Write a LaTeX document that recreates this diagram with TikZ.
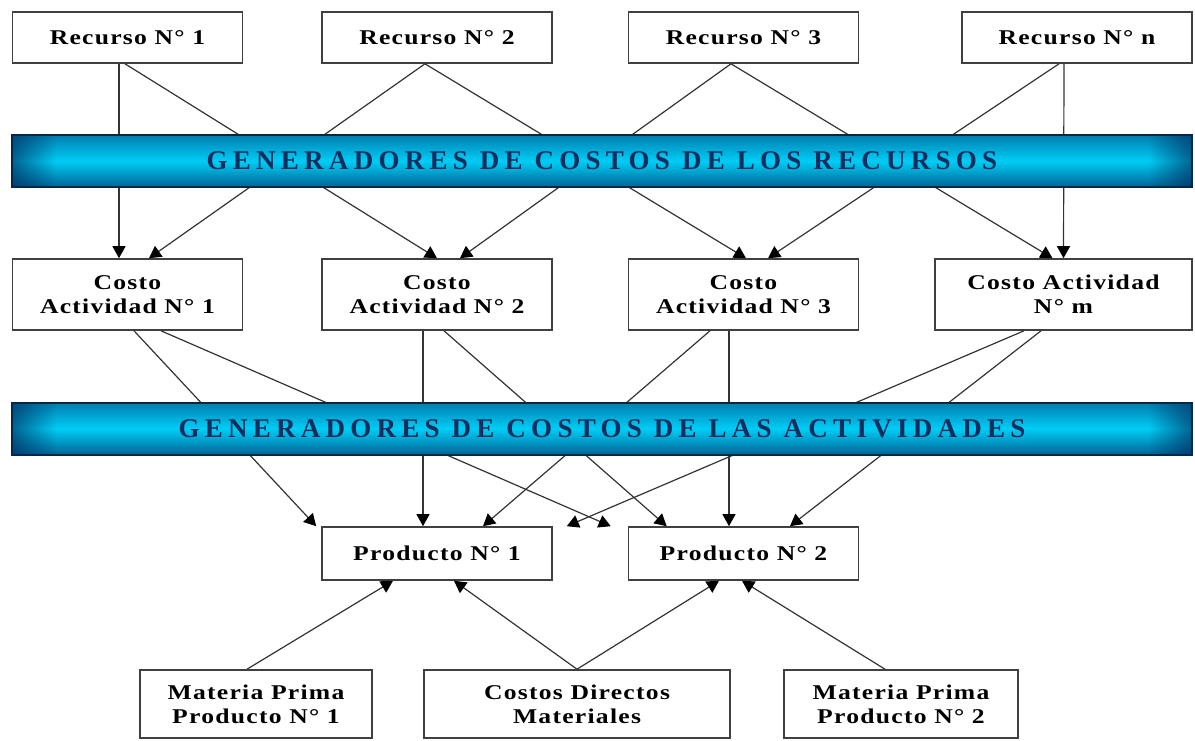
\documentclass[tikz,border=0pt]{standalone}
\usepackage{fontspec}
\setmainfont{Liberation Serif}
\newfontfamily\cajafont{Liberation Serif}[FakeStretch=1.22,LetterSpace=6]
\newfontfamily\barrafont{Liberation Serif}[LetterSpace=19.5]
\usetikzlibrary{arrows.meta,calc,fadings}
\definecolor{azulbarra}{RGB}{20,45,95}
\definecolor{bordebarra}{RGB}{10,40,60}
\definecolor{cianarriba}{RGB}{0,125,175}
\definecolor{cianmedio}{RGB}{0,205,245}
\definecolor{cianabajo}{RGB}{0,100,150}
\definecolor{finbarra}{RGB}{0,40,90}
\tikzfading[name=finizq, left color=transparent!35, right color=transparent!100]
\tikzfading[name=finder, left color=transparent!100, right color=transparent!35]
\begin{document}
\begin{tikzpicture}[x=0.5pt,y=-0.5pt]
        \tikzstyle{caja}=[draw=black!75,line width=0.8pt,fill=white,minimum width=115pt,inner sep=1pt,align=center,font=\cajafont\bfseries\fontsize{10.5}{12}\selectfont]
        \tikzstyle{barra}=[draw=bordebarra,line width=1pt,minimum width=590pt,minimum height=26pt,top color=cianarriba,bottom color=cianabajo,middle color=cianmedio,text=azulbarra,font=\barrafont\bfseries\fontsize{13.5}{15}\selectfont]
        \tikzstyle{flecha}=[draw=black!80,line width=0.6pt,-{Triangle[length=6pt,width=6.5pt,color=black]}]
        \useasboundingbox (0,0) rectangle (1195,740);
        \node[caja,minimum height=25.5pt] (r1) at (127.5,37.5) {Recurso N° 1};
        \node[caja,minimum height=25.5pt] (r2) at (437,37.5) {Recurso N° 2};
        \node[caja,minimum height=25.5pt] (r3) at (743.5,37.5) {Recurso N° 3};
        \node[caja,minimum height=25.5pt] (rn) at (1077,37.5) {Recurso N° n};
        \node[caja,minimum height=35.5pt] (a1) at (127.5,294.5) {Costo\\Actividad N° 1};
        \node[caja,minimum height=35.5pt] (a2) at (437,294.5) {Costo\\Actividad N° 2};
        \node[caja,minimum height=35.5pt] (a3) at (743.5,294.5) {Costo\\Actividad N° 3};
        \node[caja,minimum height=35.5pt,minimum width=128.5pt] (am) at (1063.5,294.5) {Costo Actividad\\N° m};
        \node[caja,minimum height=26.5pt] (p1) at (437,553.5) {Producto N° 1};
        \node[caja,minimum height=26.5pt] (p2) at (743.5,553.5) {Producto N° 2};
        \node[caja,minimum height=34pt,minimum width=116pt] (mp1) at (256,704) {Materia Prima\\Producto N° 1};
        \node[caja,minimum height=34pt,minimum width=153pt] (cdm) at (577,704) {Costos Directos\\Materiales};
        \node[caja,minimum height=34pt,minimum width=117pt] (mp2) at (901,704) {Materia Prima\\Producto N° 2};
        \draw[flecha] ($(r1.south)+(-8.5,0)$) -- ($(a1.north)+(-8.5,0)$);
        \draw[flecha] ($(r1.south)+(-2.5,0)$) -- (a2.north);
        \draw[flecha] ($(r2.south)+(-12,0)$) -- ($(a1.north)+(21.5,0)$);
        \draw[flecha] ($(r2.south)+(-12,0)$) -- ($(a3.north)+(2.5,0)$);
        \draw[flecha] ($(r3.south)+(-12.5,0)$) -- ($(a2.north)+(23,0)$);
        \draw[flecha] ($(r3.south)+(-12.5,0)$) -- ($(am.north)+(-11,0)$);
        \draw[flecha] ($(rn.south)+(-18,0)$) -- ($(a3.north)+(24.5,0)$);
        \draw[flecha] ($(rn.south)+(-13,0)$) -- (am.north);
        \draw[flecha] ($(a1.south)+(6.5,0)$) -- ($(p1.north west)+(-5,0)$);
        \draw[flecha] ($(a1.south)+(33.5,0)$) -- ($(p2.north west)+(-17,0)$);
        \draw[flecha] ($(a2.south)+(-14,0)$) -- ($(p1.north)+(-14,0)$);
        \draw[flecha] ($(a2.south)+(7,0)$) -- ($(p2.north west)+(39,0)$);
        \draw[flecha] ($(a3.south)+(-33.5,0)$) -- ($(p1.north)+(46,0)$);
        \draw[flecha] ($(a3.south)+(-14.5,0)$) -- ($(p2.north)+(-14.5,0)$);
        \draw[flecha] ($(am.south)+(-39.5,0)$) -- ($(p1.north east)+(14,0)$);
        \draw[flecha] ($(am.south)+(-22.5,0)$) -- ($(p2.north)+(46.5,0)$);
        \draw[flecha] ($(mp1.north)+(-9,0)$) -- ($(p1.south)+(-44,0)$);
        \draw[flecha] (cdm.north) -- ($(p1.south)+(17,0)$);
        \draw[flecha] (cdm.north) -- ($(p2.south)+(-24.5,0)$);
        \draw[flecha] ($(mp2.north)+(-16,0)$) -- ($(p2.south)+(-1.5,0)$);
        \node[barra] (g1) at (602,161) {GENERADORES DE COSTOS DE LOS RECURSOS};
        \node[barra] (g2) at (602,428.5) {GENERADORES DE COSTOS DE LAS ACTIVIDADES};
        \foreach \g in {g1,g2} {
            \fill[finbarra,path fading=finizq] (\g.north west) rectangle ($(\g.south west)+(45,0)$);
            \fill[finbarra,path fading=finder] ($(\g.north east)+(-45,0)$) rectangle (\g.south east);
        }
    \end{tikzpicture}
\end{document}
